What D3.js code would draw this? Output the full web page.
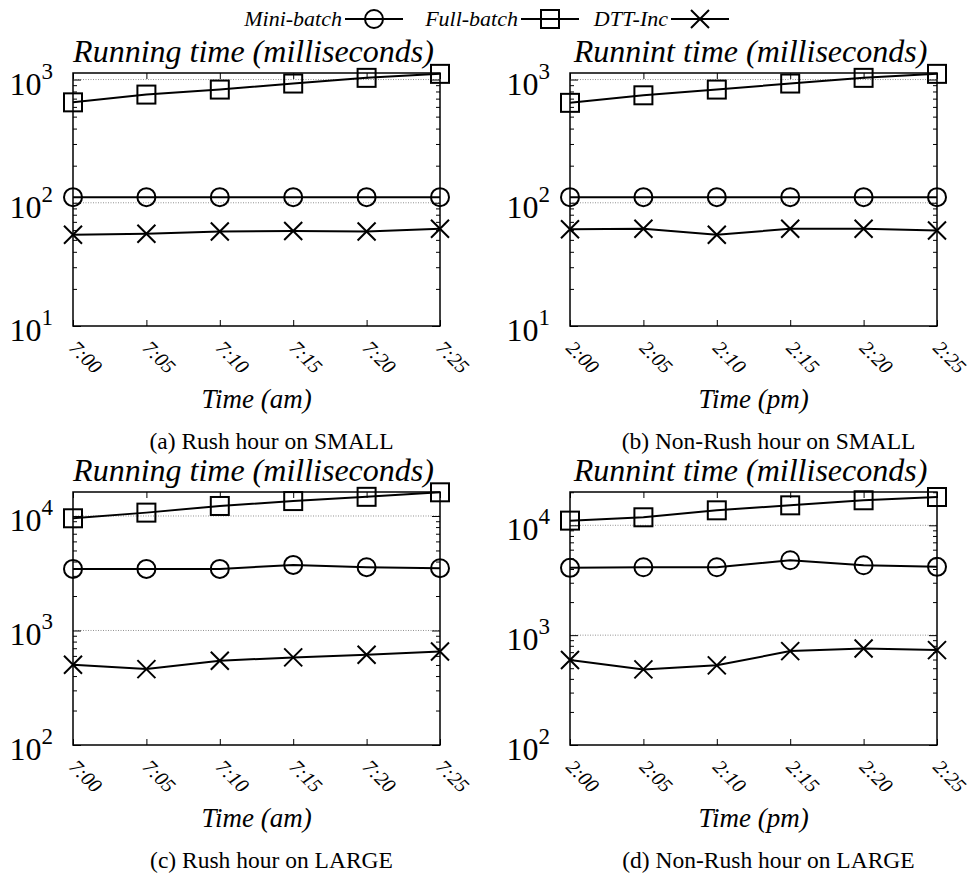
<!DOCTYPE html>
<html lang="en">
<head>
<meta charset="UTF-8">
<title>Running time</title>
<script src="https://d3js.org/d3.v7.min.js"></script>
<style>
  body { margin: 0; background: #fff; }
  svg { font-family: "Liberation Serif", "Times New Roman", serif; }
  .frame { fill: none; stroke: #000; stroke-width: 1.5; }
  .grid { stroke: #777; stroke-width: 0.8; stroke-dasharray: 1,1.5; }
  .series { fill: none; stroke: #000; stroke-width: 2; }
  .mark { fill: none; stroke: #000; stroke-width: 2; }
  .axis path { display: none; }
  .axis line { stroke: #000; stroke-width: 1; }
</style>
</head>
<body>
<div id="chart"></div>
<script>
const amTimes = ["7:00", "7:05", "7:10", "7:15", "7:20", "7:25"];
const pmTimes = ["2:00", "2:05", "2:10", "2:15", "2:20", "2:25"];
const seriesNames = ["Mini-batch", "Full-batch", "DTT-Inc"];

// (a) rush hour, SMALL
const miniA = [111, 111, 111, 111, 111, 111];
const fullA = [653, 755, 829, 928, 1032, 1112];
const dttA  = [55, 56, 58.4, 59, 58.4, 61.5];
// (b) non-rush hour, SMALL
const miniB = [111, 111, 111, 111, 111, 111];
const fullB = [647, 745, 829, 928, 1032, 1112];
const dttB  = [61, 61.5, 55, 61.5, 61.5, 59.6];
// (c) rush hour, LARGE
const miniC = [3450, 3450, 3450, 3740, 3570, 3500];
const fullC = [9550, 10700, 12230, 13500, 14700, 16100];
const dttC  = [502, 460, 545, 582, 614, 656];
// (d) non-rush hour, LARGE
const miniD = [4100, 4150, 4150, 4810, 4330, 4190];
const fullD = [11030, 11830, 13690, 15200, 16900, 18100];
const dttD  = [593, 488, 531, 716, 757, 731];

const smallMajors = [10, 100, 1000];
const largeMajors = [100, 1000, 10000];

const panels = [
  {left: 73, top: 73, w: 367, h: 253, labels: amTimes, xTitle: "Time (am)",
   title: "Running time (milliseconds)", caption: "(a) Rush hour on SMALL",
   yDomain: [10, 1130], majors: smallMajors, data: [miniA, fullA, dttA]},
  {left: 570, top: 73, w: 367, h: 253, labels: pmTimes, xTitle: "Time (pm)",
   title: "Runnint time (milliseconds)", caption: "(b) Non-Rush hour on SMALL",
   yDomain: [10, 1130], majors: smallMajors, data: [miniB, fullB, dttB]},
  {left: 73, top: 492, w: 367, h: 253, labels: amTimes, xTitle: "Time (am)",
   title: "Running time (milliseconds)", caption: "(c) Rush hour on LARGE",
   yDomain: [100, 16200], majors: largeMajors, data: [miniC, fullC, dttC]},
  {left: 570, top: 492, w: 367, h: 253, labels: pmTimes, xTitle: "Time (pm)",
   title: "Runnint time (milliseconds)", caption: "(d) Non-Rush hour on LARGE",
   yDomain: [100, 20100], majors: largeMajors, data: [miniD, fullD, dttD]}
];

const svg = d3.select("#chart").append("svg")
  .attr("width", 971)
  .attr("height", 873);

// marker per series: circle, square, cross
function drawMark(sel, k) {
  if (k === 0) sel.append("circle").attr("class", "mark").attr("r", 9);
  else if (k === 1) sel.append("rect").attr("class", "mark")
    .attr("x", -9).attr("y", -9).attr("width", 18).attr("height", 18);
  else sel.append("path").attr("class", "mark").attr("d", "M-9,-9L9,9M-9,9L9,-9");
}

function minorTicks(domain) {
  const out = [];
  for (let e = Math.floor(Math.log10(domain[0])); e <= Math.ceil(Math.log10(domain[1])); e++) {
    for (let m = 2; m <= 9; m++) {
      const v = m * Math.pow(10, e);
      if (v > domain[0] && v < domain[1]) out.push(v);
    }
  }
  return out;
}

panels.forEach(p => {
  const g = svg.append("g").attr("transform", `translate(${p.left},${p.top})`);
  const x = d3.scalePoint().domain(p.labels).range([0, p.w]);
  const y = d3.scaleLog().domain(p.yDomain).range([p.h, 0]);

  g.selectAll(".grid")
    .data(p.majors.filter(v => y(v) < p.h - 1))
    .join("line")
    .attr("class", "grid")
    .attr("x1", 0).attr("x2", p.w)
    .attr("y1", d => y(d)).attr("y2", d => y(d));

  const minors = minorTicks(p.yDomain);
  g.append("g").attr("class", "axis")
    .call(d3.axisLeft(y).tickValues(minors).tickSize(-4).tickFormat(""));
  g.append("g").attr("class", "axis").attr("transform", `translate(${p.w},0)`)
    .call(d3.axisRight(y).tickValues(minors).tickSize(-4).tickFormat(""));
  g.append("g").attr("class", "axis")
    .call(d3.axisLeft(y).tickValues(p.majors).tickSize(-8).tickFormat(""));
  g.append("g").attr("class", "axis").attr("transform", `translate(${p.w},0)`)
    .call(d3.axisRight(y).tickValues(p.majors).tickSize(-8).tickFormat(""));
  g.append("g").attr("class", "axis").attr("transform", `translate(0,${p.h})`)
    .call(d3.axisBottom(x).tickSize(-6).tickFormat(""));
  g.append("g").attr("class", "axis")
    .call(d3.axisTop(x).tickSize(-6).tickFormat(""));

  g.append("rect").attr("class", "frame").attr("width", p.w).attr("height", p.h);

  // y tick labels 10^k
  p.majors.forEach(v => {
    const t = g.append("text")
      .attr("x", -20).attr("y", y(v) + 15)
      .attr("text-anchor", "end")
      .style("font-size", "32px");
    t.append("tspan").text("10");
    t.append("tspan").attr("dy", -16).style("font-size", "23px")
      .text(Math.round(Math.log10(v)));
  });

  // x tick labels, rotated
  p.labels.forEach(l => {
    g.append("text")
      .attr("transform", `translate(${x(l) - 5},${p.h + 23}) rotate(45)`)
      .style("font-size", "20px")
      .style("font-style", "italic")
      .text(l);
  });

  g.append("text")
    .attr("x", p.w / 2).attr("y", p.h + 82)
    .attr("text-anchor", "middle")
    .style("font-size", "27px").style("font-style", "italic")
    .text(p.xTitle);

  g.append("text")
    .attr("x", p.w / 2 + 15).attr("y", p.h + 123)
    .attr("text-anchor", "middle")
    .style("font-size", "23.5px")
    .text(p.caption);

  g.append("text")
    .attr("x", p.w / 2 - 3).attr("y", -11)
    .attr("text-anchor", "middle")
    .style("font-size", "32px").style("font-style", "italic")
    .text(p.title);

  p.data.forEach((vals, k) => {
    const line = d3.line().x((d, i) => x(p.labels[i])).y(d => y(d));
    g.append("path").attr("class", "series").attr("d", line(vals));
    vals.forEach((d, i) => {
      const m = g.append("g").attr("transform", `translate(${x(p.labels[i])},${y(d)})`);
      drawMark(m, k);
    });
  });
});

// legend along the top
const legendEnds = [342, 518, 668];
const legend = svg.append("g");
seriesNames.forEach((name, k) => {
  const x0 = legendEnds[k];
  legend.append("text")
    .attr("x", x0).attr("y", 26)
    .attr("text-anchor", "end")
    .style("font-size", "22px").style("font-style", "italic")
    .text(name);
  legend.append("line").attr("class", "series")
    .attr("x1", x0 + 3).attr("x2", x0 + 61)
    .attr("y1", 19).attr("y2", 19);
  const m = legend.append("g").attr("transform", `translate(${x0 + 32},19)`);
  drawMark(m, k);
});
</script>
</body>
</html>
